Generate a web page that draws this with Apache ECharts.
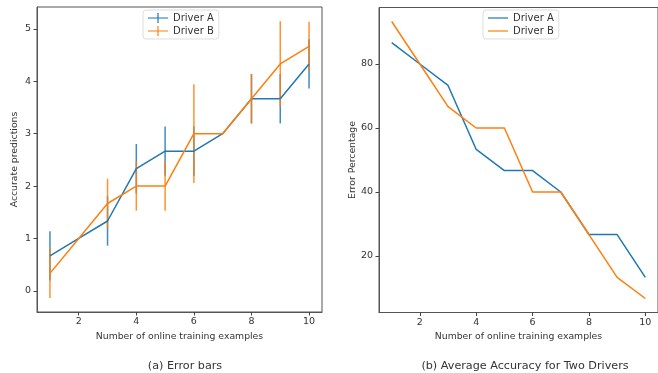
<!DOCTYPE html>
<html>
<head>
<meta charset="utf-8">
<script src="https://cdn.jsdelivr.net/npm/echarts@6/dist/echarts.min.js"></script>
<style>
  html, body { margin: 0; padding: 0; background: #fff; }
  #container { width: 658px; height: 373px; }
</style>
</head>
<body>
<div id="container"></div>
<script>
// data
var xs = [1, 2, 3, 4, 5, 6, 7, 8, 9, 10];
var accA = [0.667, 1, 1.333, 2.333, 2.667, 2.667, 3, 3.667, 3.667, 4.333];
var accB = [0.333, 1, 1.667, 2, 2, 3, 3, 3.667, 4.333, 4.667];
var errA = [0.471, 0, 0.471, 0.471, 0.471, 0.471, 0, 0.471, 0.471, 0.471];
var errB = [0.471, 0, 0.471, 0.471, 0.471, 0.943, 0, 0.471, 0.816, 0.471];
var pctA = [86.7, 80, 73.3, 53.3, 46.7, 46.7, 40, 26.7, 26.7, 13.3];
var pctB = [93.3, 80, 66.7, 60, 60, 40, 40, 26.7, 13.3, 6.7];
var xTicks = [2, 4, 6, 8, 10];
var accTicks = [0, 1, 2, 3, 4, 5];
var pctTicks = [20, 40, 60, 80];

var blue = '#1f77b4', orange = '#ff7f0e';
var font = 'DejaVu Sans';
var crossIcon = 'path://M0,4.4h20v1.2h-20z M9.4,0h1.2v10h-1.2z';
var lineIcon = 'path://M0,4.4h20v1.2h-20z';

function pairs(a) {
    return xs.map(function (x, i) { return [x, a[i]]; });
}
function errData(a, e) {
    return xs.map(function (x, i) { return [x, a[i] - e[i], a[i] + e[i]]; });
}
function errRender(color) {
    return function (params, api) {
        var lo = api.coord([api.value(0), api.value(1)]);
        var hi = api.coord([api.value(0), api.value(2)]);
        return {
            type: 'line',
            shape: { x1: lo[0], y1: lo[1], x2: hi[0], y2: hi[1] },
            style: { stroke: color, lineWidth: 1.5, opacity: 0.85 }
        };
    };
}

function xAxisOf(g) {
    return {
        type: 'value', gridIndex: g, min: 0.55, max: 10.45,
        name: 'Number of online training examples',
        nameLocation: 'middle', nameGap: 20,
        nameTextStyle: { fontFamily: font, fontSize: 9.3, color: '#333' },
        splitLine: { show: false },
        axisLine: { show: true, onZero: false, lineStyle: { color: '#555', width: 1 } },
        axisTick: { show: true, inside: false, customValues: xTicks, length: 3.5, lineStyle: { color: '#444' } },
        axisLabel: { customValues: xTicks, fontFamily: font, fontSize: 9.5, color: '#333', margin: 5 }
    };
}
function yAxisOf(g, min, max, ticks, name, gap) {
    return {
        type: 'value', gridIndex: g, min: min, max: max,
        name: name, nameLocation: 'middle', nameGap: gap,
        nameTextStyle: { fontFamily: font, fontSize: 9.3, color: '#333' },
        splitLine: { show: false },
        axisLine: { show: true, onZero: false, lineStyle: { color: '#555', width: 1 } },
        axisTick: { show: true, inside: false, customValues: ticks, length: 3.5, lineStyle: { color: '#444' } },
        axisLabel: { customValues: ticks, fontFamily: font, fontSize: 9.5, color: '#333', margin: 6 }
    };
}

var myChart = echarts.init(document.getElementById('container'));
myChart.setOption({
    animation: false,
    title: [
        { text: '(a) Error bars', left: 180, top: 356, textAlign: 'center',
          textStyle: { fontFamily: font, fontSize: 11.2, fontWeight: 'normal', color: '#333' } },
        { text: '(b) Average Accuracy for Two Drivers', left: 520, top: 356, textAlign: 'center',
          textStyle: { fontFamily: font, fontSize: 11.2, fontWeight: 'normal', color: '#333' } }
    ],
    legend: [
        {
            orient: 'vertical', left: 143, top: 10,
            itemWidth: 20, itemHeight: 10, itemGap: 3, padding: [3, 5],
            backgroundColor: '#fff', borderColor: '#ddd', borderWidth: 1, borderRadius: 3,
            textStyle: { fontFamily: font, fontSize: 10, color: '#333' },
            data: [{ name: 'Driver A', icon: crossIcon }, { name: 'Driver B', icon: crossIcon }]
        },
        {
            orient: 'vertical', left: 483, top: 10,
            itemWidth: 20, itemHeight: 10, itemGap: 3, padding: [3, 5],
            backgroundColor: '#fff', borderColor: '#ddd', borderWidth: 1, borderRadius: 3,
            textStyle: { fontFamily: font, fontSize: 10, color: '#333' },
            data: [{ name: 'Driver A', icon: lineIcon }, { name: 'Driver B', icon: lineIcon }]
        }
    ],
    grid: [
        { left: 37, top: 7, width: 285, height: 305, show: true, borderColor: '#555', borderWidth: 1 },
        { left: 379, top: 7.5, width: 285, height: 305, show: true, borderColor: '#555', borderWidth: 1 }
    ],
    xAxis: [xAxisOf(0), xAxisOf(1)],
    yAxis: [
        yAxisOf(0, -0.405, 5.42, accTicks, 'Accurate predictions', 18),
        yAxisOf(1, 2.33, 97.67, pctTicks, 'Error Percentage', 22)
    ],
    color: [blue, orange],
    series: [
        { name: 'Driver A', type: 'line', xAxisIndex: 0, yAxisIndex: 0, data: pairs(accA),
          showSymbol: false, lineStyle: { color: blue, width: 1.5 }, itemStyle: { color: blue } },
        { name: 'Driver B', type: 'line', xAxisIndex: 0, yAxisIndex: 0, data: pairs(accB),
          showSymbol: false, lineStyle: { color: orange, width: 1.5 }, itemStyle: { color: orange } },
        { name: 'errA', type: 'custom', xAxisIndex: 0, yAxisIndex: 0, data: errData(accA, errA),
          renderItem: errRender(blue), z: 1 },
        { name: 'errB', type: 'custom', xAxisIndex: 0, yAxisIndex: 0, data: errData(accB, errB),
          renderItem: errRender(orange), z: 1 },
        { name: 'Driver A', type: 'line', xAxisIndex: 1, yAxisIndex: 1, data: pairs(pctA),
          showSymbol: false, lineStyle: { color: blue, width: 1.5 }, itemStyle: { color: blue } },
        { name: 'Driver B', type: 'line', xAxisIndex: 1, yAxisIndex: 1, data: pairs(pctB),
          showSymbol: false, lineStyle: { color: orange, width: 1.5 }, itemStyle: { color: orange } }
    ]
});
</script>
</body>
</html>
